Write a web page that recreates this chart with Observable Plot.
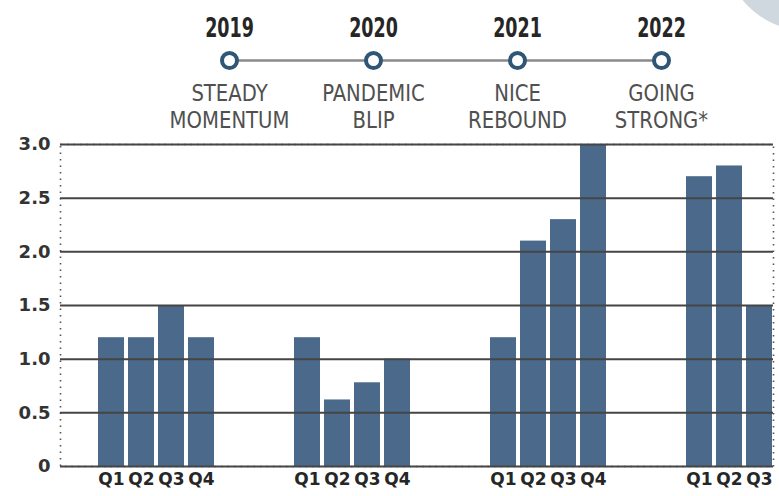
<!DOCTYPE html>
<html>
<head>
<meta charset="utf-8">
<script src="https://cdn.jsdelivr.net/npm/d3@7"></script>
<script src="https://cdn.jsdelivr.net/npm/@observablehq/plot@0.6"></script>
<style>
  html, body { margin: 0; padding: 0; background: #ffffff; }
  #chart { position: relative; width: 779px; height: 496px; overflow: hidden; background: #ffffff; }
  #chart > * { position: absolute; left: 0; top: 0; }
  #corner { position: absolute; left: 725px; top: -130px; width: 160px; height: 160px; border-radius: 50%; background: #cfd7df; }
</style>
</head>
<body>
<div id="chart"></div>
<script>
// Quarterly growth by year, with the headline for each year
const years = ["2019", "2020", "2021", "2022"];
const yearCaptions = ["STEADY\nMOMENTUM", "PANDEMIC\nBLIP", "NICE\nREBOUND", "GOING\nSTRONG*"];
const quarters = ["Q1", "Q2", "Q3", "Q4"];
const values2019 = [1.2, 1.2, 1.5, 1.2];
const values2020 = [1.2, 0.62, 0.78, 1.0];
const values2021 = [1.2, 2.1, 2.3, 3.0];
const values2022 = [2.7, 2.8, 1.5];
const yTicks = [0, 0.5, 1, 1.5, 2, 2.5, 3];
const yTickLabels = ["0", "0.5", "1.0", "1.5", "2.0", "2.5", "3.0"];

const series = [values2019, values2020, values2021, values2022];
const rows = years.flatMap((year, i) =>
  series[i].map((value, j) => ({year, quarter: quarters[j], value}))
);

const yDomain = [0, 3];
const condensed = "'DejaVu Sans Condensed', 'Liberation Sans Narrow', sans-serif";
const bold = "'DejaVu Sans', 'Open Sans', sans-serif";
const frameTop = 144, frameBottom = 30;

// Bars: one facet per year, one band per quarter
const bars = Plot.plot({
  width: 808,
  height: 496,
  marginTop: frameTop,
  marginBottom: frameBottom,
  marginLeft: 92,
  marginRight: 0,
  style: {maxWidth: "none"},
  fx: {domain: years, paddingInner: 0.35, paddingOuter: 0, axis: null, label: null},
  x: {domain: quarters, padding: 0.15, axis: null},
  y: {domain: yDomain, axis: null},
  marks: [
    Plot.barY(rows, {fx: "year", x: "quarter", y: "value", fill: "#4b6a8b"}),
    Plot.text(rows, {
      fx: "year", x: "quarter", text: "quarter",
      frameAnchor: "bottom", lineAnchor: "top", dy: 6,
      fontSize: 17, fontWeight: "bold", fontFamily: bold, fill: "#262626"
    })
  ]
});

// Grid, value axis and the year timeline drawn over the bars
const overlay = Plot.plot({
  width: 779,
  height: 496,
  marginTop: frameTop,
  marginBottom: frameBottom,
  marginLeft: 60,
  marginRight: 6,
  style: {background: "transparent", maxWidth: "none"},
  x: {type: "point", domain: years, range: [157, 733], axis: null},
  y: {domain: yDomain, axis: null},
  marks: [
    Plot.frame({stroke: "#555", strokeWidth: 1.6, strokeDasharray: "1.5,5"}),
    Plot.ruleY(yTicks, {stroke: "#454545", strokeWidth: 2}),
    Plot.axisY({
      ticks: yTicks,
      tickFormat: d => yTickLabels[yTicks.indexOf(d)],
      tickSize: 0, tickPadding: 10, label: null,
      fontSize: 18, fontWeight: "bold", fontFamily: bold, fill: "#333"
    }),
    Plot.line(years, {x: d => d, y: () => yDomain[1], dy: -84, stroke: "#8a8a8a", strokeWidth: 2.5}),
    Plot.dot(years, {x: d => d, frameAnchor: "top", dy: -84, r: 7.5, fill: "white", stroke: "#2f5677", strokeWidth: 4}),
    Plot.text(years, {
      x: d => d, text: d => d, frameAnchor: "top", lineAnchor: "middle", dy: -116,
      fontSize: 27, fontWeight: "bold", fontFamily: condensed, fill: "#262626",
      className: "year-label"
    }),
    Plot.text(years, {
      x: d => d, text: (d, i) => yearCaptions[i], frameAnchor: "top", lineAnchor: "middle", dy: -39,
      fontSize: 23, lineHeight: 1.17, fontFamily: condensed, fill: "#505050",
      className: "caption"
    })
  ]
});

// Condense the timeline lettering horizontally
function squeeze(selector, sx) {
  overlay.querySelectorAll(selector).forEach(t => {
    const tr = t.getAttribute("transform") || "";
    t.setAttribute("transform", tr + ` scale(${sx},1)`);
  });
}
squeeze(".year-label text", 0.72);
squeeze(".caption text", 0.95);

const chart = document.getElementById("chart");
chart.append(bars);
const corner = document.createElement("div");
corner.id = "corner";
chart.append(corner);
chart.append(overlay);
</script>
</body>
</html>
